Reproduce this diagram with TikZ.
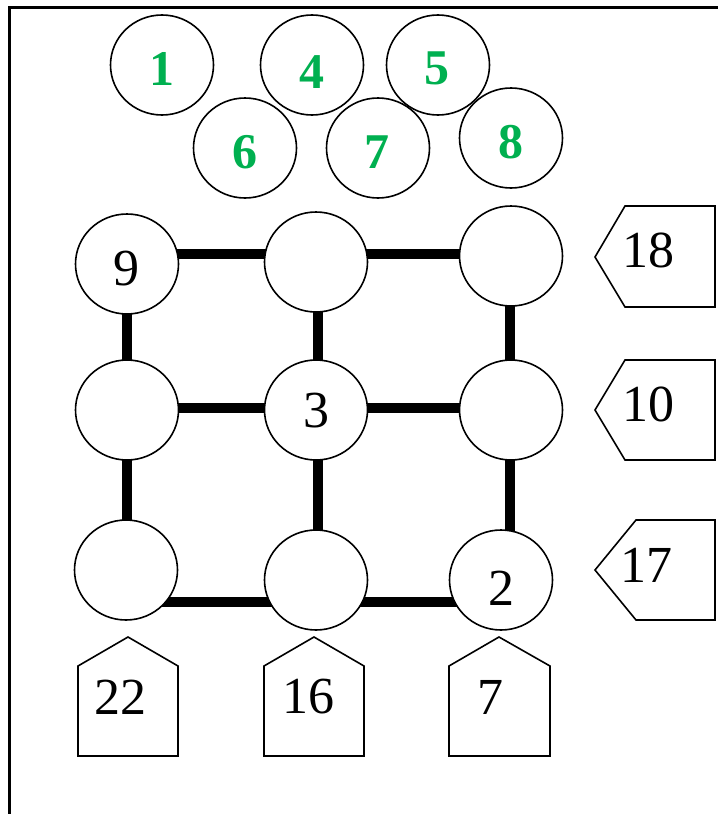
\documentclass[tikz,border=0pt]{standalone}
\usepackage{fontspec}
\setmainfont{Liberation Serif}
\usetikzlibrary{shapes.geometric}
\definecolor{grn}{RGB}{0,176,80}
\begin{document}
\begin{tikzpicture}[x=1pt,y=-1pt,
  circ/.style={draw, line width=1.6pt, ellipse, minimum width=103pt, minimum height=100pt, inner sep=0pt, fill=white},
  gnum/.style={font=\fontsize{50}{50}\selectfont\bfseries, text=grn, inner sep=0pt},
  num/.style={font=\fontsize{52}{52}\selectfont, inner sep=0pt},
  bar/.style={line width=10pt},
  tag/.style={draw, line width=1.6pt, fill=white, line join=miter},
  frame/.style={line width=3pt}]
\useasboundingbox (0,0) rectangle (718,814);
% frame
\coordinate (fbl) at (9,814);
\coordinate (ftl) at (9,7);
\coordinate (ftr) at (718,7);
\draw[frame] (fbl) -- (ftl) -- (ftr);
% green circles
\node[circ] (c1) at (162,65) {};
\node[circ] (c4) at (312,65) {};
\node[circ] (c5) at (438,65) {};
\node[circ] (c6) at (245,148) {};
\node[circ] (c7) at (378,148) {};
\node[circ] (c8) at (511,138) {};
\node[gnum] (t1) at (162,69) {1};
\node[gnum] (t4) at (312,72) {4};
\node[gnum] (t5) at (437,68) {5};
\node[gnum] (t6) at (245,152) {6};
\node[gnum] (t7) at (377,152) {7};
\node[gnum] (t8) at (511,142) {8};
% grid bars
\coordinate (h1a) at (127,254); \coordinate (h1b) at (511,254);
\coordinate (h2a) at (127,408); \coordinate (h2b) at (511,408);
\coordinate (h3a) at (127,602); \coordinate (h3b) at (501,602);
\coordinate (v1a) at (127,264); \coordinate (v1b) at (127,570);
\coordinate (v2a) at (318,260); \coordinate (v2b) at (318,580);
\coordinate (v3a) at (510,256); \coordinate (v3b) at (510,580);
\draw[bar] (h1a) -- (h1b);
\draw[bar] (h2a) -- (h2b);
\draw[bar] (h3a) -- (h3b);
\draw[bar] (v1a) -- (v1b);
\draw[bar] (v2a) -- (v2b);
\draw[bar] (v3a) -- (v3b);
% grid circles
\node[circ] (g11) at (127,264) {};
\node[circ] (g12) at (316,262) {};
\node[circ] (g13) at (511,256) {};
\node[circ] (g21) at (127,410) {};
\node[circ] (g22) at (316,410) {};
\node[circ] (g23) at (511,410) {};
\node[circ] (g31) at (126,570) {};
\node[circ] (g32) at (316,580) {};
\node[circ] (g33) at (501,580) {};
\node[num] (n9) at (126,269) {9};
\node[num] (n3) at (316,411) {3};
\node[num] (n2) at (501,588) {2};
% right tags
\draw[tag] (715,206) -- (625,206) -- (595,257) -- (625,307) -- (715,307) -- cycle;
\draw[tag] (715,360) -- (625,360) -- (595,410) -- (625,460) -- (715,460) -- cycle;
\draw[tag] (715,520) -- (636,520) -- (595,570) -- (636,620) -- (715,620) -- cycle;
\node[num] (r18) at (648,250) {18};
\node[num] (r10) at (648,404) {10};
\node[num] (r17) at (646,565) {17};
% bottom tags
\draw[tag] (78,756) -- (78,666) -- (128,637) -- (178,666) -- (178,756) -- cycle;
\draw[tag] (264,756) -- (264,666) -- (314,637) -- (364,666) -- (364,756) -- cycle;
\draw[tag] (449,756) -- (449,666) -- (499,637) -- (550,666) -- (550,756) -- cycle;
\node[num] (b22) at (120,697) {22};
\node[num] (b16) at (308,697) {16};
\node[num] (b7) at (490,697) {7};
\end{tikzpicture}
\end{document}
